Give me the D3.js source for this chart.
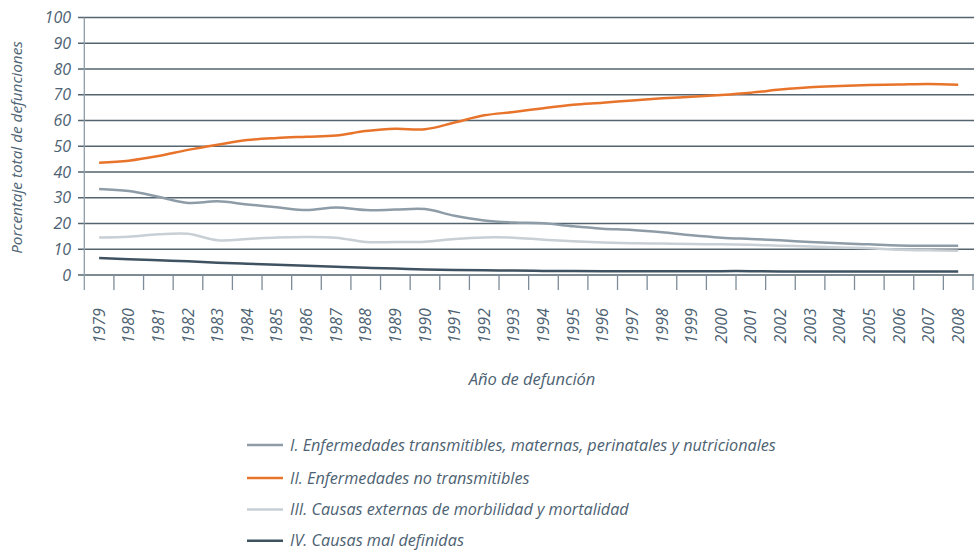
<!DOCTYPE html>
<html>
<head>
<meta charset="utf-8">
<script src="https://cdn.jsdelivr.net/npm/d3@7"></script>
<style>
    body { margin: 0; background: #fff; }
    svg text { font-family: "Open Sans", sans-serif; font-style: italic; fill: #4d6272; }
</style>
</head>
<body>
<svg id="chart" width="978" height="551"></svg>
<script>
// Años y series (porcentaje del total de defunciones)
const years = d3.range(1979, 2009);

const transmisibles = [33.4, 32.6, 30.4, 28.0, 28.6, 27.4, 26.3, 25.2, 26.2, 25.2,
    25.4, 25.6, 23.0, 21.2, 20.4, 20.1, 18.9, 18.0, 17.5, 16.6,
    15.4, 14.5, 14.0, 13.5, 12.8, 12.3, 11.9, 11.5, 11.4, 11.4];
const noTransmisibles = [43.6, 44.4, 46.2, 48.6, 50.6, 52.4, 53.2, 53.7, 54.2, 55.9,
    56.8, 56.6, 59.2, 62.0, 63.3, 64.8, 66.1, 66.9, 67.8, 68.6,
    69.2, 69.9, 70.8, 72.0, 72.9, 73.4, 73.8, 74.0, 74.2, 73.9];
const externas = [14.6, 14.9, 15.8, 16.0, 13.5, 14.0, 14.6, 14.8, 14.5, 12.8,
    12.8, 12.9, 14.0, 14.6, 14.5, 13.7, 13.1, 12.6, 12.3, 12.2,
    12.0, 11.9, 11.7, 11.4, 11.1, 10.7, 10.4, 9.8, 9.6, 9.4];
const malDefinidas = [6.6, 6.1, 5.7, 5.3, 4.8, 4.4, 4.0, 3.6, 3.2, 2.8,
    2.5, 2.1, 1.9, 1.8, 1.7, 1.6, 1.6, 1.5, 1.5, 1.5,
    1.5, 1.5, 1.5, 1.4, 1.4, 1.4, 1.4, 1.4, 1.4, 1.4];

const yTicks = d3.range(0, 101, 10);

const seriesNames = [
    "I. Enfermedades transmitibles, maternas, perinatales y nutricionales",
    "II. Enfermedades no transmitibles",
    "III. Causas externas de morbilidad y mortalidad",
    "IV. Causas mal definidas"
];
const seriesColors = ["#8e9ca7", "#e8742c", "#c8cfd5", "#3f5261"];
const seriesValues = [transmisibles, noTransmisibles, externas, malDefinidas];

const svg = d3.select("#chart");

const x = d3.scaleBand().domain(years).range([84.3, 973]).padding(0);
const y = d3.scaleLinear().domain([0, 100]).range([275, 17.5]);
const cx = d => x(d) + x.bandwidth() / 2;

// lineas de la rejilla
svg.append("g")
    .selectAll("line")
    .data(yTicks)
    .join("line")
    .attr("x1", 78)
    .attr("x2", 974)
    .attr("y1", d => y(d))
    .attr("y2", d => y(d))
    .attr("stroke", "#55656f")
    .attr("stroke-width", 1.3);

// eje vertical
svg.append("line")
    .attr("x1", 84.3).attr("x2", 84.3)
    .attr("y1", y(100)).attr("y2", 290)
    .attr("stroke", "#8d9ba6")
    .attr("stroke-width", 1.3);

// marcas del eje x, en los limites de cada año
svg.append("g")
    .selectAll("line")
    .data(years.slice(1).concat([null]))
    .join("line")
    .attr("x1", d => d === null ? 973 : x(d))
    .attr("x2", d => d === null ? 973 : x(d))
    .attr("y1", y(0))
    .attr("y2", 290)
    .attr("stroke", "#7d8c98")
    .attr("stroke-width", 1.3);

// etiquetas eje y
svg.append("g")
    .selectAll("text")
    .data(yTicks)
    .join("text")
    .attr("x", 71)
    .attr("y", d => y(d))
    .attr("dy", "0.35em")
    .attr("text-anchor", "end")
    .style("font-size", "16px")
    .text(d => d);

// etiquetas eje x, giradas; se ajustan para que el borde superior quede en y=308
const labelTop = 308;
svg.append("g")
    .selectAll("text")
    .data(years)
    .join("text")
    .attr("transform", d => "translate(" + cx(d) + "," + labelTop + ") rotate(-90)")
    .attr("dy", "0.35em")
    .attr("text-anchor", "end")
    .style("font-size", "16px")
    .text(d => d)
    .each(function (d) {
        let box = this.getBoundingClientRect();
        let svgTop = svg.node().getBoundingClientRect().top;
        let shift = labelTop - (box.top - svgTop);
        d3.select(this).attr("transform",
            "translate(" + cx(d) + "," + (labelTop + shift) + ") rotate(-90)");
    });

// titulos de los ejes
svg.append("text")
    .attr("transform", "translate(17,147.5) rotate(-90)")
    .attr("dy", "0.35em")
    .attr("text-anchor", "middle")
    .style("font-size", "15.3px")
    .text("Porcentaje total de defunciones");

svg.append("text")
    .attr("x", 532)
    .attr("y", 379)
    .attr("dy", "0.35em")
    .attr("text-anchor", "middle")
    .style("font-size", "16.5px")
    .text("Año de defunción");

// lineas de las series
const line = d3.line()
    .x((d, i) => cx(years[i]))
    .y(d => y(d))
    .curve(d3.curveCatmullRom);

svg.append("g")
    .selectAll("path")
    .data(seriesValues)
    .join("path")
    .attr("d", d => line(d))
    .attr("fill", "none")
    .attr("stroke", (d, i) => seriesColors[i])
    .attr("stroke-width", 2.5);

// leyenda
const legendY = [445, 478, 509.5, 540.7];
const legend = svg.append("g")
    .selectAll("g")
    .data(seriesNames)
    .join("g")
    .attr("transform", (d, i) => "translate(0," + legendY[i] + ")");

legend.append("line")
    .attr("x1", 247).attr("x2", 283)
    .attr("stroke", (d, i) => seriesColors[i])
    .attr("stroke-width", 2.5);

legend.append("text")
    .attr("x", 290)
    .attr("dy", "0.35em")
    .style("font-size", "16.2px")
    .text(d => d);
</script>
</body>
</html>
